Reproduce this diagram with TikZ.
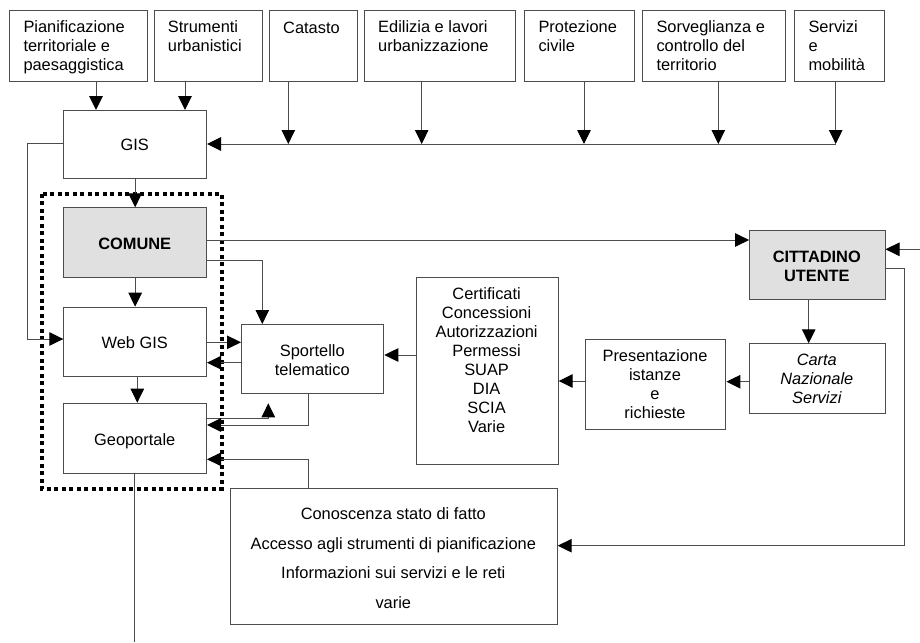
\documentclass[tikz,border=0pt]{standalone}
\usepackage{fontspec}
\setmainfont{Liberation Sans}
\usetikzlibrary{arrows.meta,calc}
\tikzset{
  box/.style={draw=black!70, line width=1pt, inner sep=0pt, anchor=north west, fill=white},
  graybox/.style={box, fill=black!12},
  ln/.style={draw=black!70, line width=1pt},
  arr/.style={ln, -{Triangle[width=13.5pt,length=14pt,color=black]}},
  txt/.style={inner sep=0pt, align=center, font=\fontsize{16.4}{19}\selectfont,
    execute at begin node=\strut, execute at end node=\strut},
  ltxt/.style={txt, align=left, anchor=north west},
  ctxt/.style={inner sep=0pt, align=center, font=\fontsize{16.4}{29.8}\selectfont,
    execute at begin node=\strut, execute at end node=\strut},
  group/.style={draw=black, line width=4pt, dash pattern=on 4pt off 3.5pt}
}
\begin{document}
\begin{tikzpicture}[x=1pt,y=-1pt]
\fill[white] (0,0) rectangle (920,642);
\useasboundingbox (0,0) rectangle (920,642);

% dotted group frame
\draw[group] (41.5,193.5) rectangle (221.5,488.5);

% top boxes
\node[box, minimum width=137.4pt, minimum height=71pt] (pian) at (9.3,10) {};
\node[box, minimum width=108.3pt, minimum height=71pt] (strum) at (153.7,10) {};
\node[box, minimum width=87.7pt, minimum height=71pt] (cat) at (269,10) {};
\node[box, minimum width=151.3pt, minimum height=71pt] (edil) at (364,10) {};
\node[box, minimum width=109.4pt, minimum height=71pt] (prot) at (524.3,10) {};
\node[box, minimum width=142.7pt, minimum height=71pt] (sorv) at (642.3,10) {};
\node[box, minimum width=90pt, minimum height=71pt] (serv) at (794.3,10) {};
\node[ltxt] (tpian) at (23.3,20.2) {Pianificazione\\territoriale e\\paesaggistica};
\node[ltxt] (tstrum) at (167.7,20.2) {Strumenti\\urbanistici};
\node[ltxt] (tcat) at (283,20.2) {Catasto};
\node[ltxt] (tedil) at (378,20.2) {Edilizia e lavori\\urbanizzazione};
\node[ltxt] (tprot) at (538.3,20.2) {Protezione\\civile};
\node[ltxt] (tsorv) at (656.3,20.2) {Sorveglianza e\\controllo del\\territorio};
\node[ltxt] (tserv) at (808.3,20.2) {Servizi\\e\\mobilità};

% left column
\node[box, minimum width=142.7pt, minimum height=68.3pt] (gis) at (63.3,110) {};
\node[graybox, minimum width=142.7pt, minimum height=69.4pt] (comune) at (63.3,207.3) {};
\node[box, minimum width=142.7pt, minimum height=69.3pt] (webgis) at (63.3,306.7) {};
\node[box, minimum width=142.7pt, minimum height=70.6pt] (geo) at (63.3,402.7) {};
\node[txt] (tgis) at (134.7,147) {GIS};
\node[txt, font=\fontsize{16.4}{19}\selectfont\bfseries] (tcom) at (134.7,245.3) {COMUNE};
\node[txt] (tweb) at (134.7,344.9) {Web GIS};
\node[txt] (tgeo) at (134.7,441.2) {Geoportale};

% middle / right boxes
\node[box, minimum width=142.3pt, minimum height=68.7pt] (sport) at (241,324) {};
\node[box, minimum width=142.2pt, minimum height=187.6pt] (cert) at (415.5,276.7) {};
\node[box, minimum width=140.9pt, minimum height=90pt] (pres) at (584.5,339.3) {};
\node[box, minimum width=135.4pt, minimum height=69.4pt] (carta) at (749.1,343.3) {};
\node[graybox, minimum width=135.4pt, minimum height=69.3pt] (citt) at (749.1,230) {};
\node[box, minimum width=326.7pt, minimum height=136pt] (con) at (230,488.3) {};
\node[txt] (tsport) at (312.3,363.3) {Sportello\\telematico};
\node[txt] (tcert) at (486.6,362.7) {Certificati\\Concessioni\\Autorizzazioni\\Permessi\\SUAP\\DIA\\SCIA\\Varie};
\node[txt] (tpres) at (655,386.5) {Presentazione\\istanze\\e\\richieste};
\node[txt, font=\fontsize{16.4}{19}\selectfont\itshape] (tcarta) at (816.8,382) {Carta\\Nazionale\\Servizi};
\node[txt, font=\fontsize{16.4}{19}\selectfont\bfseries] (tcitt) at (816.8,269.2) {CITTADINO\\UTENTE};
\node[ctxt] (tcon) at (393.3,562.5) {Conoscenza stato di fatto\\Accesso agli strumenti di pianificazione\\Informazioni sui servizi e le reti\\varie};

% helper coordinates
\coordinate (xa) at (96,0);
\coordinate (xb) at (185,0);
\coordinate (xcat) at (288.3,0);
\coordinate (xedil) at (421.7,0);
\coordinate (xprot) at (584,0);
\coordinate (xsorv) at (718.3,0);
\coordinate (bend) at (835.7,144);
\coordinate (xl) at (27.3,0);
\coordinate (yg) at (0,143.3);
\coordinate (yw) at (0,339);
\coordinate (xwg) at (137.3,0);
\coordinate (yk) at (0,240);
\coordinate (yl) at (0,260.3);
\coordinate (xl2) at (262.3,0);
\coordinate (ym) at (0,342.3);
\coordinate (yn) at (0,362.7);
\coordinate (yo) at (0,355);
\coordinate (yp) at (0,381);
\coordinate (yq) at (0,381.7);
\coordinate (xr) at (808.7,0);
\coordinate (edge) at (920,249.3);
\coordinate (yt) at (0,268.3);
\coordinate (xt) at (904.3,0);
\coordinate (yt2) at (0,545.7);
\coordinate (yu) at (0,418.3);
\coordinate (xu) at (268.3,0);
\coordinate (yu2) at (0,403.3);
\coordinate (xv) at (308.3,0);
\coordinate (yv) at (0,425);
\coordinate (yw2) at (0,459.3);
\coordinate (bot) at (134,642);

% connectors: top row to GIS
\draw[arr] (pian.south -| xa) -- (gis.north -| xa);
\draw[arr] (strum.south -| xb) -- (gis.north -| xb);
\draw[arr] (bend) -- (gis.east |- bend);
\draw[arr] (cat.south -| xcat) -- (xcat |- bend);
\draw[arr] (edil.south -| xedil) -- (xedil |- bend);
\draw[arr] (prot.south -| xprot) -- (xprot |- bend);
\draw[arr] (sorv.south -| xsorv) -- (xsorv |- bend);
\draw[arr] (serv.south -| bend) -- (bend);

% left column
\draw[arr] (gis.west |- yg) -| (xl |- yw) -- (webgis.west |- yw);
\draw[arr] (gis.south) -- (comune.north);
\draw[arr] (comune.south) -- (webgis.north);
\draw[arr] (webgis.south -| xwg) -- (geo.north -| xwg);

% comune connections
\draw[arr] (comune.east |- yk) -- (citt.west |- yk);
\draw[arr] (comune.east |- yl) -| (sport.north -| xl2);
\draw[arr] (webgis.east |- ym) -- (sport.west |- ym);
\draw[arr] (sport.west |- yn) -- (webgis.east |- yn);

% right chain
\draw[arr] (cert.west |- yo) -- (sport.east |- yo);
\draw[arr] (pres.west |- yp) -- (cert.east |- yp);
\draw[arr] (carta.west |- yq) -- (pres.east |- yq);
\draw[arr] (citt.south -| xr) -- (carta.north -| xr);
\draw[arr] (edge) -- (citt.east |- edge);
\draw[arr] (citt.east |- yt) -| (xt |- yt2) -- (con.east |- yt2);

% geoportale connections
\draw[arr] (geo.east |- yu) -| (xu |- yu2);
\draw[arr] (sport.south -| xv) |- (geo.east |- yv);
\draw[arr] (con.north -| xv) |- (geo.east |- yw2);
\draw[ln] (geo.south -| bot) -- (bot);
\end{tikzpicture}
\end{document}
